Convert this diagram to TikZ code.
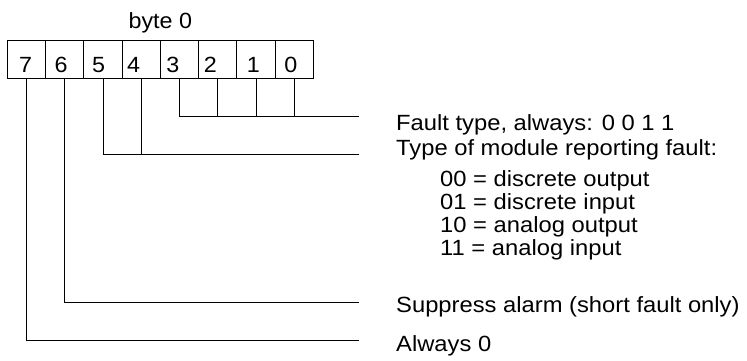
\documentclass[tikz,border=0pt]{standalone}
\usepackage{fontspec}
\setmainfont{Liberation Sans}
\usetikzlibrary{positioning}
\tikzset{
  bitcell/.style={draw, line width=0.8pt, minimum width=38.25pt, minimum height=38.3pt, inner sep=0pt},
  bitnum/.style={anchor=base, inner sep=0pt, font=\fontsize{22}{26}\selectfont, xscale=1.06},
  desc/.style={anchor=base west, inner sep=0pt, font=\fontsize{22}{26}\selectfont, xscale=1.08},
  wire/.style={line width=0.8pt}
}
\begin{document}
\begin{tikzpicture}[x=1pt, y=-1pt]
  \useasboundingbox (0,0) rectangle (747,360);
  \foreach \b/\f [count=\i from 0] in {7/0.48,6/0.41,5/0.39,4/0.30,3/0.33,2/0.31,1/0.43,0/0.41} {
    \node[bitcell] (c\b) at ({26.45+\i*38.25},59.15) {};
    \node[bitnum] (n\b) at ({7.3+(\i+\f)*38.25},72) {\b};
  }
  \node[bitnum] (byte) at (160.3,28) {byte 0};

  \coordinate (e30) at (359,116.5);
  \coordinate (e54) at (359,154);
  \coordinate (e6) at (359,302);
  \coordinate (e7) at (359,340.5);

  \node[desc] (fault) at (396,130) {Fault type, always: 0 0 1 1};
  \node[desc] (modtype) at (396,155) {Type of module reporting fault:};
  \foreach \t/\y in {00 = discrete output/186, 01 = discrete input/209, 10 = analog output/232, 11 = analog input/255}
    \node[desc] (m\y) at (440,\y) {\t};
  \node[desc] (suppress) at (396,312) {Suppress alarm (short fault only)};
  \node[desc] (always) at (396,351) {Always 0};

  \draw[wire] (c3.south) |- (e30);
  \foreach \b in {2,1,0}
    \draw[wire] (c\b.south) -- (c\b.south |- e30);
  \draw[wire] (c5.south) |- (e54);
  \draw[wire] (c4.south) -- (c4.south |- e54);
  \draw[wire] (c6.south) |- (e6);
  \draw[wire] (c7.south) |- (e7);
\end{tikzpicture}
\end{document}
